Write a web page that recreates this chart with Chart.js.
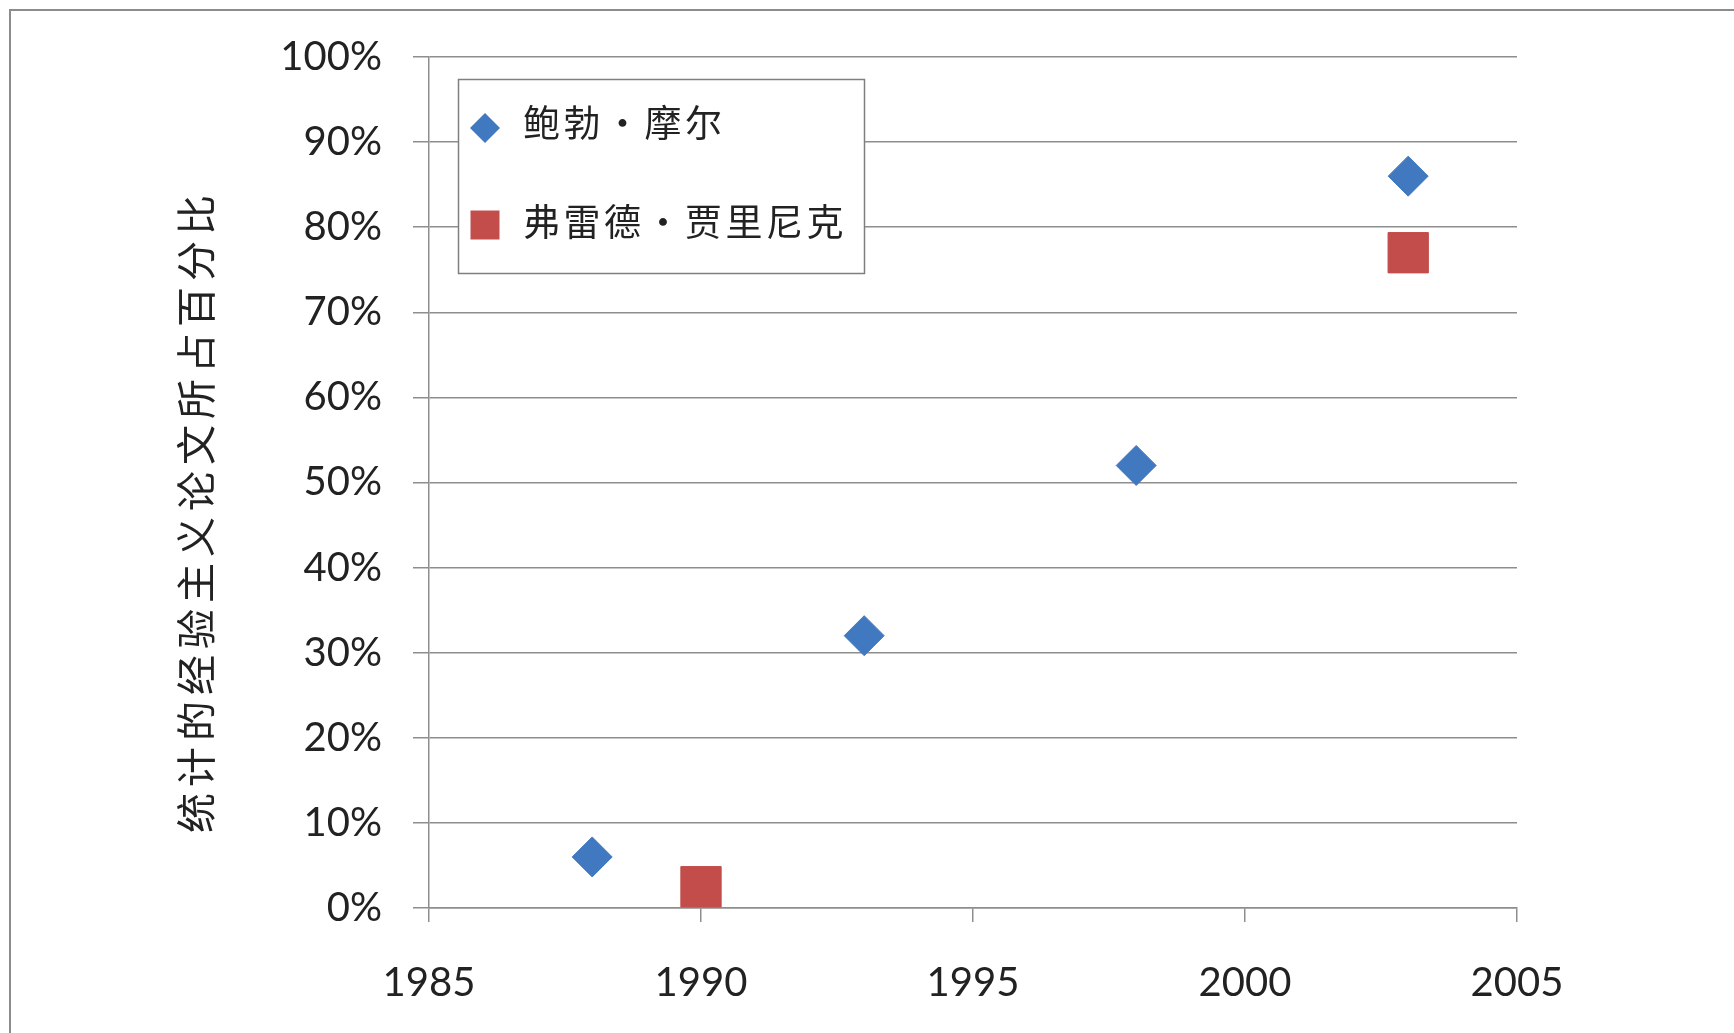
<!DOCTYPE html>
<html>
<head>
<meta charset="utf-8">
<title>统计的经验主义论文所占百分比</title>
<script src="https://cdn.jsdelivr.net/npm/chart.js@4/dist/chart.umd.min.js"></script>
<style>
  html, body { margin: 0; padding: 0; background: #fff; overflow: hidden; }
  #wrap { position: relative; width: 1734px; height: 1033px; overflow: hidden; }
  #frame { position: absolute; left: 9px; top: 9px; width: 1800px; height: 1100px; border: 2px solid #8c8c8c; }
  #chart { position: absolute; left: 0; top: 0; }
</style>
</head>
<body>
<div id="wrap">
  <div id="frame"></div>
  <canvas id="chart" width="1734" height="1033"></canvas>
</div>
<script>
// data
const xTicks = [1985, 1990, 1995, 2000, 2005];
const yTicks = [0, 10, 20, 30, 40, 50, 60, 70, 80, 90, 100];
const yTickLabels = ['0%', '10%', '20%', '30%', '40%', '50%', '60%', '70%', '80%', '90%', '100%'];

const mooreLabel = '鲍勃・摩尔';
const mooreYears = [1988, 1993, 1998, 2003];
const mooreValues = [6, 32, 52, 86];

const jelinekLabel = '弗雷德・贾里尼克';
const jelinekYears = [1990, 2003];
const jelinekValues = [2.5, 77];

const yTitle = '统计的经验主义论文所占百分比';

// --- styles
const BLUE = '#4179c1';
const RED = '#c24d4b';
const GRID = '#8e8e8e';
const TEXT = '#222';
const CJK = '"Noto Sans CJK SC", "Noto Sans", sans-serif';

const toPoints = (xs, ys) => xs.map((x, i) => ({x, y: ys[i]}));

// legend box + rotated y title, drawn after the chart
const extras = {
  id: 'extras',
  afterDraw(chart){
    const ctx = chart.ctx;
    ctx.save();

    // y axis title
    ctx.translate(196, 514);
    ctx.rotate(-Math.PI / 2);
    ctx.font = '40px ' + CJK;
    ctx.letterSpacing = '6px';
    ctx.fillStyle = TEXT;
    ctx.textAlign = 'center';
    ctx.textBaseline = 'middle';
    ctx.fillText(yTitle, 3, 0);
    ctx.restore();

    // legend
    ctx.save();
    ctx.fillStyle = '#fff';
    ctx.fillRect(458, 79, 406, 194);
    ctx.strokeStyle = '#7f7f7f';
    ctx.lineWidth = 1.5;
    ctx.strokeRect(458.5, 79.5, 406, 194);

    const rows = [
      {ds: chart.data.datasets[0], y: 123, markerY: 128, radius: 15},
      {ds: chart.data.datasets[1], y: 222, markerY: 225, radius: 20.5}
    ];
    rows.forEach(r => {
      const style = {pointStyle: r.ds.pointStyle, radius: r.radius, rotation: 0, borderWidth: 0};
      ctx.fillStyle = r.ds.backgroundColor;
      ctx.strokeStyle = r.ds.backgroundColor;
      ctx.lineWidth = 0;
      if (Chart.helpers && Chart.helpers.drawPoint) {
        Chart.helpers.drawPoint(ctx, style, 485, r.markerY);
      }
      ctx.font = '37px ' + CJK;
      ctx.letterSpacing = '3.5px';
      ctx.fillStyle = TEXT;
      ctx.textAlign = 'left';
      ctx.textBaseline = 'middle';
      ctx.fillText(r.ds.label, 523, r.y);
    });
    ctx.restore();
  }
};

const ctx = document.getElementById('chart').getContext('2d');
const chart = new Chart(ctx, {
  type: 'scatter',
  data: {
    datasets: [{
      label: mooreLabel,
      data: toPoints(mooreYears, mooreValues),
      pointStyle: 'rectRot',
      pointRadius: 20,
      pointHoverRadius: 20,
      backgroundColor: BLUE,
      borderColor: BLUE,
      borderWidth: 1,
      clip: false
    }, {
      label: jelinekLabel,
      data: toPoints(jelinekYears, jelinekValues),
      pointStyle: 'rect',
      pointRadius: 28.5,
      pointHoverRadius: 28.5,
      backgroundColor: RED,
      borderColor: RED,
      borderWidth: 1,
      clip: false
    }]
  },
  options: {
    responsive: false,
    animation: false,
    layout: {padding: {left: 0, top: 57, right: 217, bottom: 5}},
    plugins: {
      legend: {display: false},
      tooltip: {enabled: false}
    },
    scales: {
      x: {
        type: 'linear',
        min: 1985,
        max: 2005,
        afterBuildTicks: s => { s.ticks = xTicks.map(v => ({value: v})); },
        afterFit: s => { s.height = 120; },
        grid: {drawOnChartArea: false, drawTicks: true, tickLength: 14, color: GRID, lineWidth: 1.5},
        border: {display: true, color: GRID, width: 1.5},
        ticks: {
          padding: 37,
          color: TEXT,
          font: {family: 'Lato, "Open Sans", sans-serif', size: 40},
          maxRotation: 0,
          callback: v => String(v)
        }
      },
      y: {
        type: 'linear',
        min: 0,
        max: 100,
        afterBuildTicks: s => { s.ticks = yTicks.map(v => ({value: v})); },
        afterFit: s => { s.width = 429; },
        grid: {drawOnChartArea: true, drawTicks: true, tickLength: 16, color: GRID, lineWidth: 1.5},
        border: {display: true, color: GRID, width: 1.5},
        ticks: {
          padding: 31,
          color: TEXT,
          font: {family: 'Lato, "Open Sans", sans-serif', size: 40},
          callback: v => yTickLabels[yTicks.indexOf(v)]
        }
      }
    }
  },
  plugins: [extras]
});
</script>
</body>
</html>
